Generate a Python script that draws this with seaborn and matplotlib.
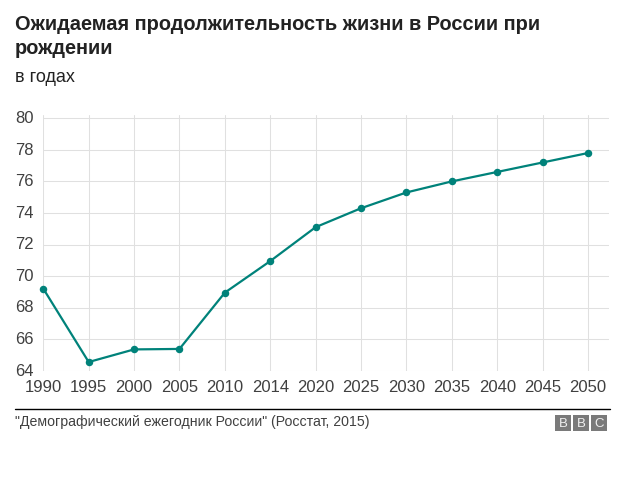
import matplotlib
matplotlib.use("Agg")
import matplotlib.pyplot as plt
from matplotlib.patches import Rectangle
from matplotlib.transforms import ScaledTranslation
import pandas as pd
import seaborn as sns

# Values
years = ["1990", "1995", "2000", "2005", "2010", "2014", "2020",
         "2025", "2030", "2035", "2040", "2045", "2050"]
life_expectancy = [69.2, 64.55, 65.35, 65.38, 68.95, 70.95, 73.1,
                   74.3, 75.3, 76.0, 76.6, 77.2, 77.8]
y_ticks = [64, 66, 68, 70, 72, 74, 76, 78, 80]

title_text = "Ожидаемая продолжительность жизни в России при\nрождении"
subtitle_text = "в годах"
source_text = "\"Демографический ежегодник России\" (Росстат, 2015)"

W, H = 624, 488
TEAL = "#00827a"
GRID = "#e0e0e0"

sns.set_theme(style="whitegrid")
plt.rcParams["font.family"] = ["Liberation Sans", "DejaVu Sans"]

df = pd.DataFrame({"year": years, "value": life_expectancy})

fig = plt.figure(figsize=(W / 100, H / 100), dpi=100, facecolor="white")
# axes box in pixels: x 43..609, y 115..371
ax = fig.add_axes([43.3 / W, 1 - 370.7 / H, (608.7 - 43.3) / W, (370.7 - 115) / H])

sns.lineplot(data=df, x="year", y="value", sort=False, ax=ax, color=TEAL,
             linewidth=1.6, marker="o", markersize=5.4, markeredgewidth=0,
             clip_on=False, zorder=3)

ax.set_xlim(0, 12.456)
ax.set_ylim(64, 80.21)
ax.set_yticks(y_ticks)
ax.set_xlabel("")
ax.set_ylabel("")
ax.grid(True, color=GRID, linewidth=0.75)
for s in ax.spines.values():
    s.set_visible(False)
ax.tick_params(axis="both", length=0, labelsize=12, labelcolor="#404040")
ax.tick_params(axis="x", pad=6.5)
ax.tick_params(axis="y", pad=7)

# y labels sit a little above their gridlines in the reference
shift = ScaledTranslation(0, 0.8 / 72, fig.dpi_scale_trans)
for lab in ax.get_yticklabels():
    lab.set_transform(lab.get_transform() + shift)

fig.text(15 / W, 1 - 14.5 / H, title_text, fontsize=14.4, fontweight="bold",
         color="#222222", va="top", ha="left", linespacing=1.36)
fig.text(15 / W, 1 - 77.5 / H, subtitle_text, fontsize=13, color="#222222",
         va="center", ha="left")

fig.add_artist(plt.Line2D([15 / W, 610 / W], [1 - 408.5 / H] * 2, color="black", linewidth=1))
fig.text(15 / W, 1 - 421.7 / H, source_text, fontsize=10.2, color="#404040",
         va="center", ha="left")

# BBC blocks
for i, letter in enumerate("BBC"):
    x0 = 555 + i * 18
    fig.add_artist(Rectangle((x0 / W, 1 - 431 / H), 16 / W, 16 / H,
                             transform=fig.transFigure, facecolor="#7a7a7a",
                             edgecolor="none"))
    fig.text((x0 + 8) / W, 1 - 423.7 / H, letter, fontsize=9.5, color="#f0f0f0",
             ha="center", va="center")

fig.savefig("out.png", dpi=100)
